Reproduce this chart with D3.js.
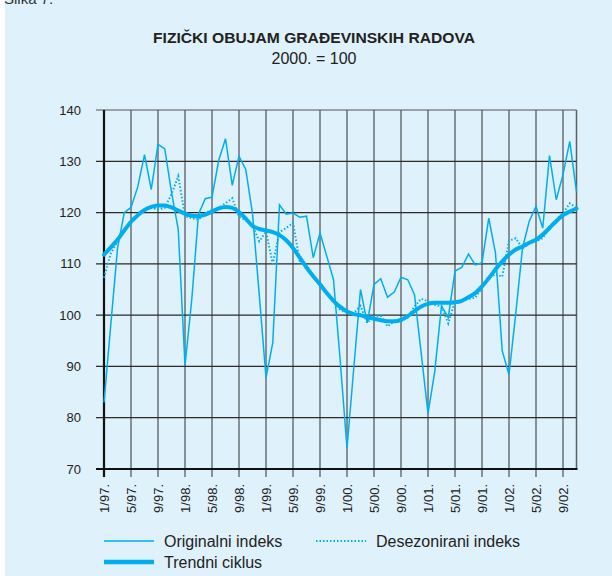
<!DOCTYPE html>
<html>
	<head>
		<title>Fizicki obujam gradjevinskih radova</title>
		<meta charset="utf-8">
		<script src="https://d3js.org/d3.v7.min.js"></script>
		<style>
			body { margin: 0; background: #fff; }
			svg { display: block; font-family: "Liberation Sans", Arial, sans-serif; }
		</style>
	</head>
	<body>
		<div id="chart"></div>

<script type="text/javascript">

	// monthly, 1/97. to 11/02.
	var original = [
		83, 98, 113, 120, 121, 125, 131.3, 124.5, 133.3, 132.4, 124, 116.7,
		90.2, 103, 119.7, 122.7, 123, 130.2, 134.4, 125.3, 131, 128.4, 119.8, 104,
		87.8, 94.6, 121.5, 119.7, 119.9, 119.1, 119.3, 111.2, 116, 111.5, 106.9, 91,
		74.1, 89.6, 105, 98.5, 106, 107.1, 103.5, 104.5, 107.4, 106.9, 104, 92.5,
		80.8, 89, 101.8, 99.5, 108.6, 109.3, 111.9, 109.8, 110.2, 118.9, 112.1, 93,
		88.4, 100.3, 113.1, 118.3, 121.2, 117, 131.1, 122.5, 127.4, 133.9, 124.1
	]
	var deseasonal = [
		107.3, 112, 114.4, 116.7, 118.3, 119.6, 120.6, 120.9, 120.6, 120.9, 123.6, 127.1,
		119.3, 118.9, 118.6, 119.9, 120.5, 120.9, 121.8, 122.8, 119.2, 118.5, 117.5, 114.4,
		116.3, 110, 116.2, 117, 118, 110.5, 109.4, 107.6, 105.8, 104.5, 102.6, 101,
		100.5, 100.4, 101.8, 98.5, 99.8, 99.8, 97.8, 98.8, 98.8, 99.5, 101.7, 103.2,
		102.7, 102, 101.7, 98.4, 102.7, 102.8, 103.2, 103.4, 105.3, 107.2, 108, 107.5,
		114.5, 115, 113, 114.1, 114.4, 115, 117.3, 118.6, 119.9, 121.8, 120.9
	]
	var trend = [
		111.8, 113.2, 114.7, 116.5, 118.2, 119.5, 120.5, 121.1, 121.4, 121.4, 121, 120.4,
		119.8, 119.4, 119.3, 119.6, 120.2, 120.8, 121.1, 120.9, 120.1, 118.8, 117.4, 116.8,
		116.5, 116.2, 115.6, 114.6, 113.1, 111.2, 109.3, 107.6, 106, 104.3, 102.8, 101.6,
		100.7, 100.2, 100, 99.6, 99.3, 99, 98.8, 98.8, 99.1, 99.8, 100.8, 101.7,
		102.2, 102.4, 102.4, 102.4, 102.5, 102.8, 103.5, 104.3, 105.6, 107.2, 108.9, 110.5,
		111.8, 112.8, 113.4, 114.1, 114.7, 115.7, 117, 118.3, 119.5, 120.2, 120.8
	]
	var tickLabels = ['1/97.', '5/97.', '9/97.', '1/98.', '5/98.', '9/98.', '1/99.', '5/99.', '9/99.',
		'1/00.', '5/00.', '9/00.', '1/01.', '5/01.', '9/01.', '1/02.', '5/02.', '9/02.']
	var yTicks = [70, 80, 90, 100, 110, 120, 130, 140]

	var width = 612, height = 576
	var blue = '#00aeef'

	var svg = d3.select('#chart').append('svg')
		.attr('width', width)
		.attr('height', height)

	svg.append('rect')
		.attr('x', 5).attr('y', 0)
		.attr('width', width - 5).attr('height', height)
		.attr('fill', '#dff1fb')

	// caption, cut by the top edge as in the source page
	svg.append('text')
		.attr('x', 4).attr('y', 4)
		.attr('font-size', 15).attr('fill', '#333')
		.text('Slika 7.')

	svg.append('text')
		.attr('x', 314).attr('y', 43)
		.attr('text-anchor', 'middle')
		.attr('font-size', 14.5).attr('font-weight', 'bold').attr('fill', '#222')
		.attr('textLength', 322).attr('lengthAdjust', 'spacingAndGlyphs')
		.text('FIZIČKI OBUJAM GRAĐEVINSKIH RADOVA')

	svg.append('text')
		.attr('x', 314).attr('y', 64)
		.attr('text-anchor', 'middle')
		.attr('font-size', 16).attr('fill', '#222')
		.text('2000. = 100')

	var x = d3.scaleLinear().domain([0, original.length - 1]).range([104, 576.5])
	var y = d3.scaleLinear().domain([70, 140]).range([469, 110])

	var tickIdx = tickLabels.map(function (d, i) { return i * 4 })

	// vertical grid (grey) with ticks below the axis
	svg.append('g')
		.selectAll('line')
		.data(tickIdx.slice(1)).enter()
		.append('line')
		.attr('x1', function (d) { return x(d) }).attr('x2', function (d) { return x(d) })
		.attr('y1', y(140)).attr('y2', y(70) + 8)
		.attr('stroke', '#7c868c').attr('stroke-width', 1.8)

	svg.append('line')
		.attr('x1', x(70)).attr('x2', x(70))
		.attr('y1', y(140)).attr('y2', y(70))
		.attr('stroke', '#5a6166').attr('stroke-width', 1.5)

	// horizontal grid (dark) extending left as ticks
	svg.append('g')
		.selectAll('line')
		.data(yTicks.slice(1)).enter()
		.append('line')
		.attr('x1', x(0) - 8).attr('x2', x(70))
		.attr('y1', function (d) { return y(d) }).attr('y2', function (d) { return y(d) })
		.attr('stroke', function (d) { return d == 140 ? '#555' : '#2a2a2a' })
		.attr('stroke-width', 1.2)

	// axes
	svg.append('line')
		.attr('x1', x(0)).attr('x2', x(0)).attr('y1', y(140)).attr('y2', y(70) + 8)
		.attr('stroke', '#111').attr('stroke-width', 2.2)
	svg.append('line')
		.attr('x1', x(0) - 8).attr('x2', x(70) + 1).attr('y1', y(70)).attr('y2', y(70))
		.attr('stroke', '#111').attr('stroke-width', 2.2)

	svg.append('g')
		.selectAll('text')
		.data(yTicks).enter()
		.append('text')
		.attr('x', 81).attr('y', function (d) { return y(d) })
		.attr('dy', '0.35em')
		.attr('text-anchor', 'end')
		.attr('font-size', 13).attr('fill', '#222')
		.text(function (d) { return d })

	svg.append('g')
		.selectAll('text')
		.data(tickLabels).enter()
		.append('text')
		.attr('transform', function (d, i) { return 'translate(' + x(tickIdx[i]) + ',484) rotate(-90)' })
		.attr('dy', '0.35em')
		.attr('text-anchor', 'end')
		.attr('font-size', 13).attr('fill', '#222')
		.text(function (d) { return d })

	var line = d3.line()
		.x(function (d, i) { return x(i) })
		.y(function (d) { return y(d) })

	svg.append('path')
		.datum(original)
		.attr('d', line)
		.attr('fill', 'none').attr('stroke', blue).attr('stroke-width', 1.5)
		.attr('stroke-linejoin', 'miter')

	svg.append('path')
		.datum(deseasonal)
		.attr('d', line)
		.attr('fill', 'none').attr('stroke', blue).attr('stroke-width', 2)
		.attr('stroke-dasharray', '1.5,2')

	svg.append('path')
		.datum(trend)
		.attr('d', d3.line().curve(d3.curveMonotoneX).x(function (d, i) { return x(i) }).y(function (d) { return y(d) }))
		.attr('fill', 'none').attr('stroke', blue).attr('stroke-width', 4)
		.attr('stroke-linecap', 'round')

	// legend
	var legend = [
		{ name: 'Originalni indeks', x: 104, y: 541, w: 1.5, dash: null },
		{ name: 'Desezonirani indeks', x: 316, y: 541, w: 2, dash: '1.5,2' },
		{ name: 'Trendni ciklus', x: 104, y: 562, w: 4.5, dash: null }
	]
	var lg = svg.append('g').selectAll('g').data(legend).enter().append('g')
	lg.append('line')
		.attr('x1', function (d) { return d.x }).attr('x2', function (d) { return d.x + 50 })
		.attr('y1', function (d) { return d.y }).attr('y2', function (d) { return d.y })
		.attr('stroke', blue)
		.attr('stroke-width', function (d) { return d.w })
		.attr('stroke-dasharray', function (d) { return d.dash })
	lg.append('text')
		.attr('x', function (d) { return d.x + 60 }).attr('y', function (d) { return d.y + 5.5 })
		.attr('font-size', 16).attr('fill', '#222')
		.text(function (d) { return d.name })

</script>
	</body>
</html>
